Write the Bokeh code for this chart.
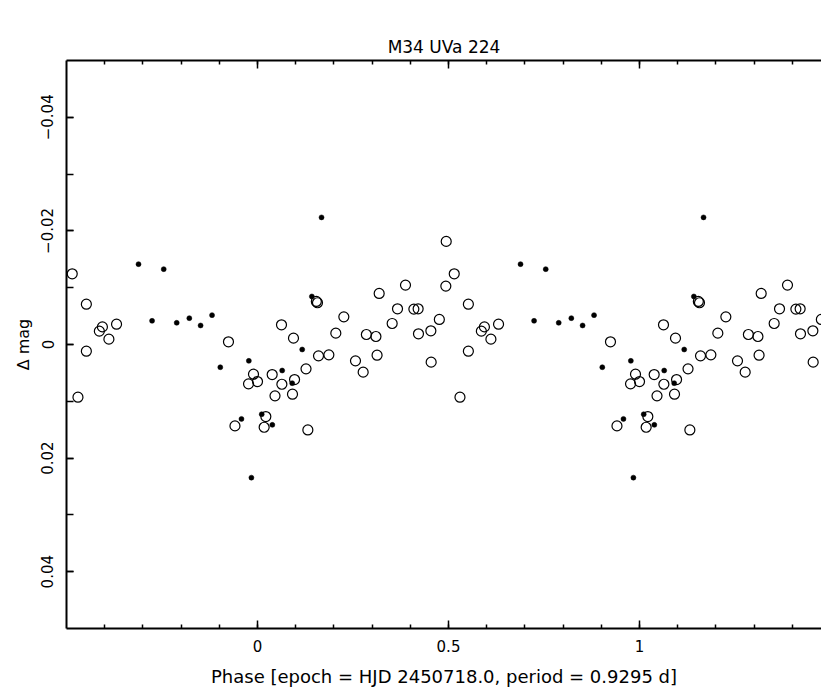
import numpy as np
from bokeh.plotting import figure
from bokeh.models import Range1d, FixedTicker, LinearAxis
from bokeh.embed import file_html
from bokeh.resources import INLINE

# ---- data (phase in [0,1), delta mag) ----
open_phase = [0.515, 0.552, 0.552, 0.530, 0.586, 0.594, 0.611, 0.631, 0.924, 0.9895,
              0.9765, 0.000, 0.941, 0.0384, 0.0638, 0.097, 0.0916, 0.0458, 0.0218, 0.0174,
              0.1318, 0.0628, 0.0942, 0.127, 0.1597, 0.1868, 0.154, 0.157, 0.205, 0.226,
              0.2565, 0.2766, 0.285, 0.310, 0.313, 0.3185, 0.3525, 0.3665, 0.3874, 0.4093,
              0.4205, 0.4214, 0.4538, 0.4546, 0.476, 0.494, 0.493]
open_mag = [-0.01245, -0.0071, 0.00118, 0.00928, -0.00235, -0.0031, -0.00094, -0.00358, -0.00047, 0.00523,
            0.00693, 0.00652, 0.01433, 0.00529, 0.0070, 0.00617, 0.00875, 0.00904, 0.01269, 0.01457,
            0.01504, -0.00347, -0.00112, 0.00429, 0.0020, 0.00182, -0.00758, -0.00735, -0.0020, -0.00487,
            0.00288, 0.00487, -0.00176, -0.00141, 0.00188, -0.00899, -0.0037, -0.00628, -0.01046, -0.00623,
            -0.00628, -0.00188, -0.00241, 0.00311, -0.00441, -0.01815, -0.01028]

dot_phase = [0.6885, 0.7545, 0.724, 0.7885, 0.8215, 0.851, 0.881, 0.9026, 0.9773, 0.958,
             0.984, 0.011, 0.0388, 0.0646, 0.0908, 0.117, 0.1423, 0.1676]
dot_mag = [-0.01415, -0.01327, -0.00417, -0.00382, -0.00464, -0.00335, -0.00517, 0.0040, 0.00288, 0.0131,
           0.02344, 0.01228, 0.01415, 0.00458, 0.00681, 0.00088, -0.00846, -0.02238]

x_major = [0, 0.5, 1]
x_labels = {0: "0", 0.5: "0.5", 1: "1"}
y_major = [-0.04, -0.02, 0, 0.02, 0.04]
y_labels = {-0.04: "\u22120.04", -0.02: "\u22120.02", 0: "0", 0.02: "0.02", 0.04: "0.04"}

title_text = "M34 UVa 224"
xlabel = "Phase [epoch = HJD 2450718.0, period = 0.9295 d]"
ylabel = "\u0394 mag"

X0, X1 = -0.5, 1.4764


def fold(ph, mg):
    ph = np.asarray(ph); mg = np.asarray(mg)
    xs, ys = [], []
    for s in (-1, 0, 1):
        x = ph + s
        m = (x >= X0) & (x <= X1 + 0.02)
        xs.append(x[m]); ys.append(mg[m])
    return np.concatenate(xs), np.concatenate(ys)


ox, oy = fold(open_phase, open_mag)
dx, dy = fold(dot_phase, dot_mag)

FONT = "DejaVu Sans"

p = figure(width=821, height=690, output_backend="svg", toolbar_location=None,
           x_range=Range1d(X0, X1), y_range=Range1d(0.05, -0.05),
           min_border_left=66, min_border_right=0, min_border_top=60, min_border_bottom=62,
           x_axis_location="below", y_axis_location="left")
p.outline_line_color = None
p.xgrid.visible = False
p.ygrid.visible = False

p.title.text = title_text
p.title.align = "center"
p.title.offset = 4
p.title.text_font = FONT
p.title.text_font_size = "17px"
p.title.text_font_style = "normal"
p.title.text_color = "black"
p.title.standoff = 8

minor_x = [round(-0.4 + 0.1 * i, 1) for i in range(19)]
minor_y = [round(-0.04 + 0.01 * i, 2) for i in range(9)]

xa = p.xaxis[0]
xa.ticker = FixedTicker(ticks=x_major, minor_ticks=minor_x)
xa.major_label_overrides = x_labels
ya = p.yaxis[0]
ya.ticker = FixedTicker(ticks=y_major, minor_ticks=minor_y)
ya.major_label_overrides = y_labels
ya.major_label_orientation = "vertical"

top = LinearAxis(ticker=FixedTicker(ticks=x_major, minor_ticks=minor_x))
top.major_label_text_font_size = "2px"
top.major_label_text_color = None
top.major_label_standoff = 0
p.add_layout(top, "above")

for ax in (xa, top):
    ax.major_tick_in = 8
    ax.major_tick_out = 0
    ax.minor_tick_in = 4
    ax.minor_tick_out = 0
ya.major_tick_in = 7
ya.major_tick_out = 0
ya.minor_tick_in = 7
ya.minor_tick_out = 0

for ax in (xa, ya, top):
    ax.axis_line_width = 2
    ax.axis_line_color = "black"
    ax.major_tick_line_width = 1.5
    ax.minor_tick_line_width = 1.5
    ax.major_tick_line_color = "black"
    ax.minor_tick_line_color = "black"
    ax.major_label_text_font = FONT
    ax.axis_label_text_font = FONT
    ax.axis_label_text_font_style = "normal"
    ax.axis_label_text_color = "black"
xa.major_label_text_color = "black"
ya.major_label_text_color = "black"

xa.major_label_text_font_size = "15px"
xa.major_label_standoff = 11
xa.axis_label = xlabel
xa.axis_label_text_font_size = "18px"
xa.axis_label_standoff = 11

ya.major_label_text_font_size = "15px"
ya.major_label_standoff = 13
ya.axis_label = ylabel
ya.axis_label_text_font_size = "16px"
ya.axis_label_standoff = 6

p.scatter(ox, oy, marker="circle", size=10, fill_color=None, line_color="black", line_width=1.2)
p.scatter(dx, dy, marker="circle", size=5, fill_color="black", line_color="black", line_width=0.5)

open("out.html", "w").write(file_html(p, INLINE))
